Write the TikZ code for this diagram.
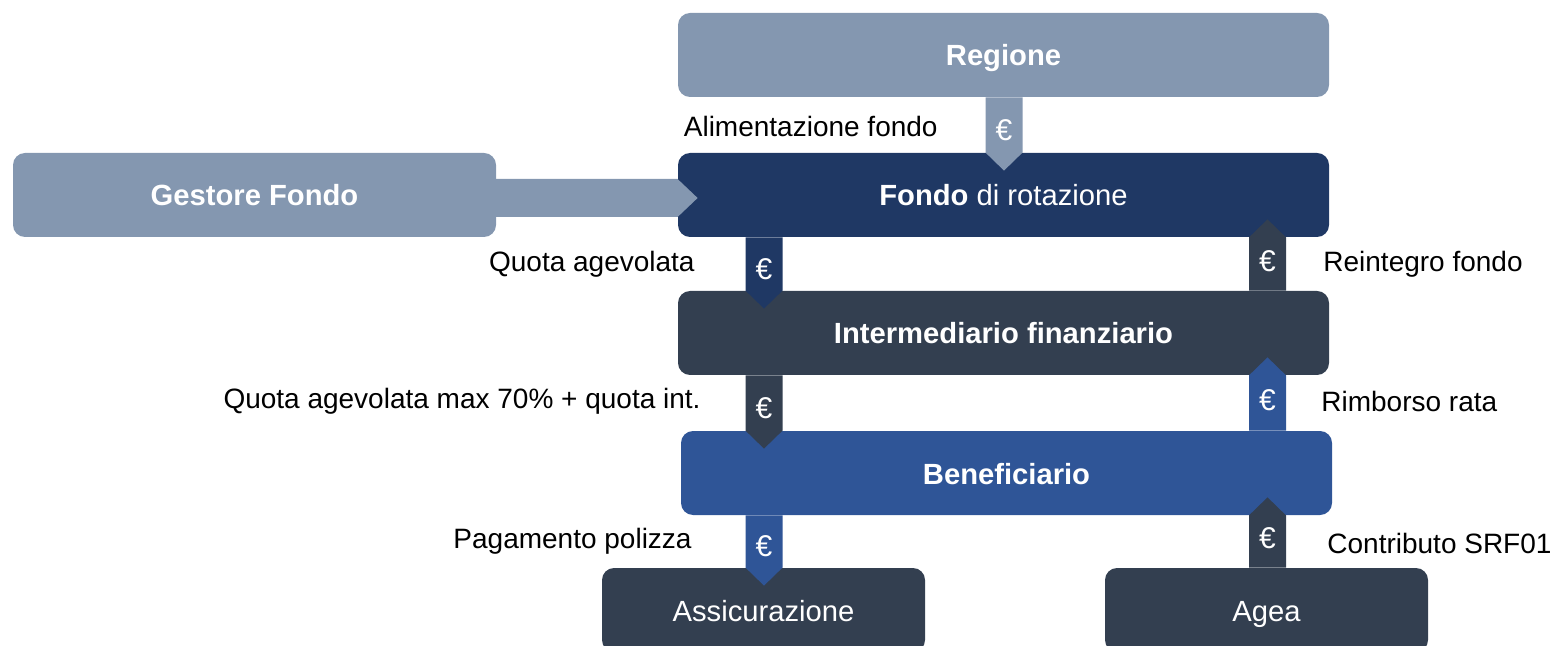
\documentclass[tikz,border=0pt]{standalone}
\usepackage{fontspec}
\setmainfont{Liberation Sans}
\usetikzlibrary{calc}
\definecolor{cgray}{HTML}{8497B0}
\definecolor{cnavy}{HTML}{1F3864}
\definecolor{cslate}{HTML}{333F50}
\definecolor{cblue}{HTML}{2F5597}
\tikzset{
  box/.style={rounded corners=6pt, inner sep=0pt, minimum height=42pt, text=white,
    text height=11pt, text depth=0pt,
    font=\fontsize{14.6pt}{16pt}\selectfont},
  widebox/.style={box, minimum width=325.5pt},
  smallbox/.style={box, minimum width=161.5pt},
  lbl/.style={inner sep=0pt, font=\fontsize{14pt}{16pt}\selectfont, text=black},
  euro/.style={inner sep=0pt, text=white, font=\fontsize{15pt}{16pt}\selectfont},
}
\newcommand\flowdown[4]{%
  \fill[#1] ($(#2 |- #3.south)+(-18.5,0)$) -- ($(#2 |- #4.north)+(-18.5,0)$)
    -- ($(#2 |- #4.north)+(0,18)$) -- ($(#2 |- #4.north)+(18.5,0)$)
    -- ($(#2 |- #3.south)+(18.5,0)$) -- cycle;
  \node[euro] at ($($(#2 |- #3.south)!0.5!(#2 |- #4.north)$)+(0,5)$) {€};}
\newcommand\flowup[4]{%
  \fill[#1] ($(#2 |- #3.north)+(-18.5,0)$) -- ($(#2 |- #4.south)+(-18.5,0)$)
    -- ($(#2 |- #4.south)+(0,-18)$) -- ($(#2 |- #4.south)+(18.5,0)$)
    -- ($(#2 |- #3.north)+(18.5,0)$) -- cycle;
  \node[euro] at ($($(#2 |- #3.north)!0.5!(#2 |- #4.south)$)+(0,-3)$) {€};}
\begin{document}
\begin{tikzpicture}[x=0.5pt,y=-0.5pt]
\useasboundingbox (0,0) rectangle (1552,646);
\clip (0,0) rectangle (1552,646);
% boxes
\node[widebox, fill=cgray] (reg) at (1003.5,55) {\bfseries Regione};
\node[widebox, fill=cnavy] (fon) at (1003.5,195) {\bfseries Fondo\mdseries{} di rotazione};
\node[box, minimum width=241.5pt, fill=cgray] (ges) at (254.5,195) {\bfseries Gestore Fondo};
\node[widebox, fill=cslate] (int) at (1003.5,333) {\bfseries Intermediario finanziario};
\node[widebox, fill=cblue] (ben) at (1006.5,473) {\bfseries Beneficiario};
\node[smallbox, fill=cslate] (ass) at (763.5,610) {Assicurazione};
\node[smallbox, fill=cslate] (age) at (1266.5,610) {Agea};
% columns
\coordinate (cm) at (1004,0);
\coordinate (cl) at (764,0);
\coordinate (cr) at (1267.5,0);
% gestore arrow
\fill[cgray] ($(ges.east)+(-1,-16)$) -- ($(fon.west |- ges.east)+(0,-16)$)
  -- ($(fon.west |- ges.east)+(20,3)$) -- ($(fon.west |- ges.east)+(0,22)$)
  -- ($(ges.east)+(-1,22)$) -- cycle;
% flows
\flowdown{cgray}{cm}{reg}{fon}
\flowdown{cnavy}{cl}{fon}{int}
\flowup{cslate}{cr}{int}{fon}
\flowdown{cslate}{cl}{int}{ben}
\flowup{cblue}{cr}{ben}{int}
\flowdown{cblue}{cl}{ben}{ass}
\flowup{cslate}{cr}{age}{ben}
% labels
\node[lbl, anchor=east] (l1) at (938,126) {Alimentazione fondo};
\node[lbl, anchor=east] (l2) at (695,264) {Quota agevolata};
\node[lbl, anchor=west] (l3) at (1323,264) {Reintegro fondo};
\node[lbl, anchor=east] (l4) at (701,401) {Quota agevolata max 70\% + quota int.};
\node[lbl, anchor=west] (l5) at (1321,401) {Rimborso rata};
\node[lbl, anchor=east] (l6) at (692,541) {Pagamento polizza};
\node[lbl, anchor=west] (l7) at (1327,543) {Contributo SRF01};
\end{tikzpicture}
\end{document}
